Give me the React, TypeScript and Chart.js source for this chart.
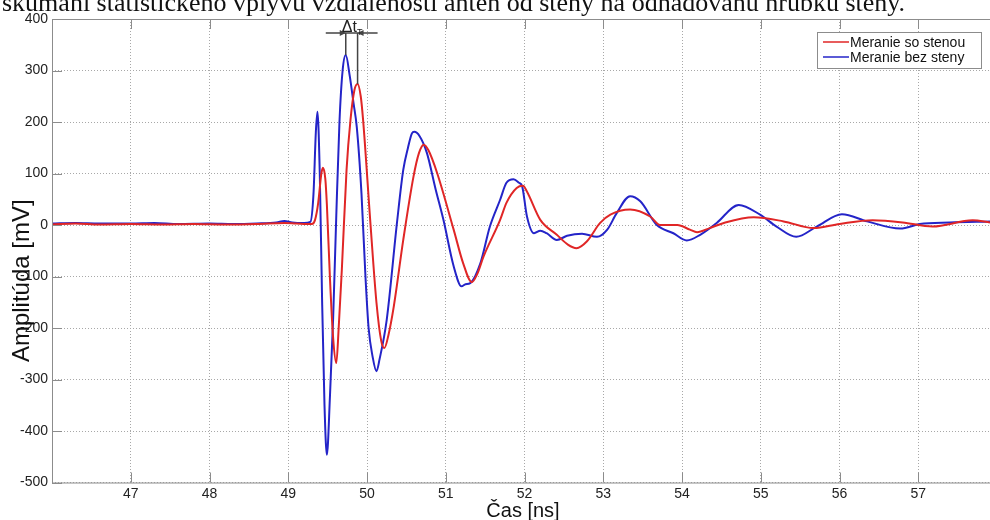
import React, { useEffect, useRef } from "react";
import { Chart, registerables } from "chart.js";

Chart.register(...registerables);

const pageTitle = "skúmaní štatistického vplyvu vzdialenosti antén od steny na odhadovanú hrúbku steny.";
const xTitle = "Čas [ns]";
const yTitle = "Amplitúda [mV]";
const seriesNames = ["Meranie so stenou", "Meranie bez steny"];
const seriesColors = ["#e02626", "#2424c8"];
const xTicks = [47, 48, 49, 50, 51, 52, 53, 54, 55, 56, 57];
const yTicks = [-500, -400, -300, -200, -100, 0, 100, 200, 300, 400];
const xRange = [46.0, 57.91];
const yRange = [-500, 400];

// Meranie so stenou (red)
const timeWithWall = [
  46.0, 46.3, 46.6, 47.0, 47.4, 47.8, 48.2, 48.6, 48.95, 49.1, 49.3, 49.34, 49.38, 49.42, 49.44, 49.47,
  49.49, 49.53, 49.57, 49.61, 49.64, 49.68, 49.74, 49.79, 49.84, 49.88, 49.92, 49.95, 50.04, 50.12,
  50.18, 50.22, 50.27, 50.34, 50.46, 50.59, 50.66, 50.72, 50.78, 50.89, 51.1, 51.22, 51.33, 51.4,
  51.48, 51.69, 51.77, 51.9, 51.98, 52.03, 52.2, 52.41, 52.55, 52.66, 52.79, 52.96, 53.09, 53.34,
  53.6, 53.72, 53.94, 54.1, 54.19, 54.35, 54.53, 54.91, 55.29, 55.67, 56.0, 56.42, 56.8, 57.18,
  57.69, 57.91,
];
const ampWithWall = [
  1, 3, 1, 2, 1, 2, 1, 2, 4, 3, 2, 10, 43, 100, 111, 90,
  40, -106, -220, -268, -200, -87, 107, 204, 262, 274, 250, 204, 10, -151,
  -225, -239, -215, -158, -29, 94, 140, 156, 145, 101, -9, -74, -111, -95,
  -61, 10, 43, 72, 76, 65, 10, -19, -38, -45, -32, 4, 20, 30,
  16, 0, 0, -9, -14, -6, 4, 15, 7, -6, 2, 9, 5, -3,
  9, 5,
];

// Meranie bez steny (blue)
const timeWithoutWall = [
  46.0, 46.3, 46.6, 47.0, 47.3, 47.6, 48.0, 48.3, 48.6, 48.85, 48.95, 49.05, 49.2, 49.28, 49.32, 49.35,
  49.37, 49.4, 49.43, 49.46, 49.49, 49.53, 49.57, 49.61, 49.65, 49.69, 49.73, 49.78, 49.83, 49.87,
  49.93, 49.98, 50.02, 50.07, 50.12, 50.16, 50.25, 50.38, 50.46, 50.52, 50.57, 50.6, 50.67, 50.76,
  50.87, 50.97, 51.1, 51.2, 51.25, 51.31, 51.44, 51.56, 51.69, 51.77, 51.86, 51.93, 51.97, 52.03,
  52.12, 52.2, 52.28, 52.41, 52.54, 52.73, 52.92, 53.05, 53.17, 53.34, 53.47, 53.68, 53.89, 54.06,
  54.23, 54.44, 54.72, 54.99, 55.2, 55.45, 55.71, 56.03, 56.35, 56.77, 57.02, 57.4, 57.91,
];
const ampWithoutWall = [
  3, 4, 3, 3, 4, 2, 3, 2, 3, 5, 8, 5, 4, 6, 60, 180,
  220, 100, -150, -350, -446, -330, -180, 20, 200, 300, 330, 290, 235, 190,
  60, -100, -200, -255, -284, -260, -184, 4, 107, 150, 178, 181, 172, 140,
  70, 10, -80, -119, -115, -113, -74, -3, 49, 82, 89, 82, 75, 17,
  -16, -11, -16, -29, -21, -17, -23, -9, 23, 56, 46, 0, -16, -30,
  -19, 4, 39, 20, -3, -23, -3, 21, 7, -7, 2, 5, 7,
];

const toPoints = (xs: number[], ys: number[]) => xs.map((x, i) => ({ x, y: ys[i] }));
const argMax = (ys: number[]) => ys.reduce((best, v, i) => (v > ys[best] ? i : best), 0);

const decorPlugin = {
  id: "decor",
  afterDraw(chart: any) {
    const { ctx, chartArea } = chart;
    const xs = chart.scales.x;
    const ys = chart.scales.y;
    const { left, right, top, bottom } = chartArea;
    ctx.save();

    // frame
    ctx.strokeStyle = "#8c8c8c";
    ctx.lineWidth = 1;
    ctx.beginPath();
    ctx.moveTo(left + 0.5, top + 0.5);
    ctx.lineTo(right + 2, top + 0.5);
    ctx.moveTo(left + 0.5, top);
    ctx.lineTo(left + 0.5, bottom + 0.5);
    ctx.lineTo(right + 2, bottom + 0.5);
    // inner tick marks
    xTicks.forEach((v) => {
      const px = Math.round(xs.getPixelForValue(v)) + 0.5;
      ctx.moveTo(px, bottom);
      ctx.lineTo(px, bottom - 10);
      ctx.moveTo(px, top);
      ctx.lineTo(px, top + 10);
    });
    yTicks.forEach((v) => {
      const py = Math.round(ys.getPixelForValue(v)) + 0.5;
      ctx.moveTo(left, py);
      ctx.lineTo(left + 10, py);
    });
    ctx.stroke();

    // page text cut at the top
    ctx.fillStyle = "#111";
    ctx.font = '26px "Liberation Serif", serif';
    ctx.textAlign = "left";
    ctx.textBaseline = "alphabetic";
    ctx.fillText(pageTitle, 2, 11);

    // axis titles
    ctx.fillStyle = "#111";
    ctx.font = '20px "Liberation Sans", Arial, sans-serif';
    ctx.textAlign = "center";
    ctx.fillText(xTitle, (left + right) / 2 + 2, 517);
    ctx.save();
    ctx.translate(22, (top + bottom) / 2 + 30);
    ctx.rotate(-Math.PI / 2);
    ctx.font = '24px "Liberation Sans", Arial, sans-serif';
    ctx.textBaseline = "middle";
    ctx.fillText(yTitle, 0, 0);
    ctx.restore();

    // Δt annotation between the two main peaks
    const iB = argMax(ampWithoutWall);
    const iR = argMax(ampWithWall);
    const bx = xs.getPixelForValue(timeWithoutWall[iB]);
    const by = ys.getPixelForValue(ampWithoutWall[iB]);
    const rx = xs.getPixelForValue(timeWithWall[iR]);
    const ry = ys.getPixelForValue(ampWithWall[iR]);
    const ly = top + 14;
    ctx.strokeStyle = "#444";
    ctx.fillStyle = "#444";
    ctx.lineWidth = 1.5;
    ctx.beginPath();
    ctx.moveTo(bx - 20, ly);
    ctx.lineTo(rx + 20, ly);
    ctx.moveTo(bx, ly);
    ctx.lineTo(bx, by);
    ctx.moveTo(rx, ly);
    ctx.lineTo(rx, ry);
    ctx.stroke();
    ctx.beginPath();
    ctx.moveTo(bx, ly);
    ctx.lineTo(bx - 6, ly - 3);
    ctx.lineTo(bx - 6, ly + 3);
    ctx.closePath();
    ctx.moveTo(rx, ly);
    ctx.lineTo(rx + 6, ly - 3);
    ctx.lineTo(rx + 6, ly + 3);
    ctx.closePath();
    ctx.fill();
    ctx.fillStyle = "#222";
    ctx.textAlign = "left";
    ctx.textBaseline = "alphabetic";
    ctx.font = '16px "Liberation Sans", Arial, sans-serif';
    ctx.fillText("Δt", bx - 4, ly - 1.5);
    const w = ctx.measureText("Δt").width;
    ctx.font = '9px "Liberation Sans", Arial, sans-serif';
    ctx.fillText("T", bx - 4 + w, ly + 2);

    // legend
    const bw = 164;
    const bh = 36;
    const bxl = right - bw - 9;
    const byt = top + 13;
    ctx.fillStyle = "#fff";
    ctx.fillRect(bxl, byt, bw, bh);
    ctx.strokeStyle = "#8c8c8c";
    ctx.lineWidth = 1;
    ctx.strokeRect(bxl + 0.5, byt + 0.5, bw, bh);
    ctx.font = '14px "Liberation Sans", Arial, sans-serif';
    ctx.textBaseline = "middle";
    seriesNames.forEach((name, i) => {
      const yy = byt + 10 + i * 15;
      ctx.strokeStyle = seriesColors[i];
      ctx.lineWidth = 1.5;
      ctx.beginPath();
      ctx.moveTo(bxl + 6, yy);
      ctx.lineTo(bxl + 32, yy);
      ctx.stroke();
      ctx.fillStyle = "#111";
      ctx.fillText(name, bxl + 33, yy + 1);
    });

    ctx.restore();
  },
};

export default function App() {
  const ref = useRef<HTMLCanvasElement | null>(null);
  useEffect(() => {
    document.body.style.margin = "0";
    const canvas = ref.current;
    if (!canvas) return;
    const chart = new Chart(canvas, {
      type: "line",
      data: {
        datasets: [
          {
            label: seriesNames[0],
            data: toPoints(timeWithWall, ampWithWall),
            borderColor: seriesColors[0],
            borderWidth: 2,
            pointRadius: 0,
            cubicInterpolationMode: "monotone",
          },
          {
            label: seriesNames[1],
            data: toPoints(timeWithoutWall, ampWithoutWall),
            borderColor: seriesColors[1],
            borderWidth: 2,
            pointRadius: 0,
            cubicInterpolationMode: "monotone",
          },
        ],
      },
      options: {
        responsive: false,
        animation: false,
        layout: { padding: { top: 19, left: 0, right: 0, bottom: 0 } },
        plugins: { legend: { display: false }, tooltip: { enabled: false } },
        scales: {
          x: {
            type: "linear",
            min: xRange[0],
            max: xRange[1],
            afterBuildTicks: (s: any) => {
              s.ticks = xTicks.map((v) => ({ value: v }));
            },
            afterFit: (s: any) => {
              s.height = 37.5;
            },
            grid: { color: "#a8a8a8", lineWidth: 1, drawTicks: false },
            border: { display: false, dash: [1, 2] },
            ticks: {
              padding: 3,
              color: "#222",
              font: { family: '"Liberation Sans", Arial, sans-serif', size: 14 },
              maxRotation: 0,
            },
          },
          y: {
            type: "linear",
            min: yRange[0],
            max: yRange[1],
            afterBuildTicks: (s: any) => {
              s.ticks = yTicks.map((v) => ({ value: v }));
            },
            afterFit: (s: any) => {
              s.width = 52;
            },
            grid: { color: "#a8a8a8", lineWidth: 1, drawTicks: false },
            border: { display: false, dash: [1, 2] },
            ticks: {
              padding: 4,
              color: "#222",
              font: { family: '"Liberation Sans", Arial, sans-serif', size: 14 },
            },
          },
        },
      },
      plugins: [decorPlugin],
    });
    return () => chart.destroy();
  }, []);
  return <canvas ref={ref} width={990} height={520} style={{ display: "block" }} />;
}
